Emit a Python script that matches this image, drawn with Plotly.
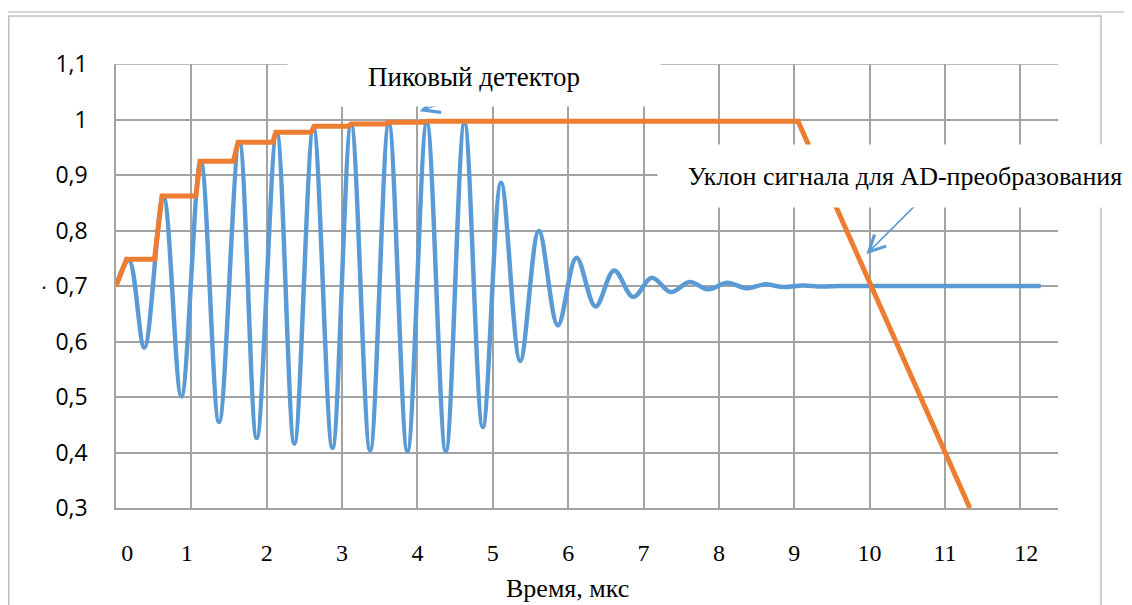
import plotly.graph_objects as go

# ---- data ----
# signal (blue): time in microseconds, amplitude
signal_t = [0.0, 0.17, 0.376, 0.628, 0.867, 1.124, 1.367, 1.637, 1.867, 2.133, 2.367,
            2.62, 2.872, 3.12, 3.372, 3.62, 3.867, 4.124, 4.376, 4.624, 4.867, 5.11,
            5.363, 5.611, 5.863, 6.11, 6.363, 6.61, 6.863, 7.11, 7.363, 7.61, 7.863,
            8.11, 8.36, 8.61, 8.86, 9.11, 9.36, 9.61, 10.0, 12.27]
signal_v = [0.70, 0.747, 0.589, 0.862, 0.501, 0.925, 0.455, 0.958, 0.426, 0.976, 0.416,
            0.985, 0.408, 0.991, 0.404, 0.993, 0.402, 0.994, 0.402, 0.994, 0.446, 0.886,
            0.565, 0.799, 0.629, 0.751, 0.663, 0.728, 0.680, 0.715, 0.689, 0.707, 0.694,
            0.706, 0.696, 0.703, 0.698, 0.701, 0.699, 0.700, 0.700, 0.700]

# peak detector (orange)
peak_t = [0.0, 0.14, 0.51, 0.61, 1.06, 1.115, 1.557, 1.62, 2.08, 2.12, 2.59, 2.63,
          3.08, 3.12, 3.58, 3.62, 4.08, 4.12, 9.05, 11.33]
peak_v = [0.70, 0.748, 0.748, 0.862, 0.862, 0.925, 0.925, 0.959, 0.959, 0.977, 0.977,
          0.988, 0.988, 0.992, 0.992, 0.995, 0.995, 0.997, 0.997, 0.30]

x_grid_vals = list(range(0, 13))
x_tick_labels = [str(v) for v in x_grid_vals]
y_tick_vals = [0.3, 0.4, 0.5, 0.6, 0.7, 0.8, 0.9, 1.0, 1.1]
y_tick_labels = ["0,3", "0,4", "0,5", "0,6", "0,7", "0,8", "0,9", "1", "1,1"]

label_peak = "Пиковый детектор"
label_slope = "Уклон сигнала для AD-преобразования"
x_title = "Время, мкс"

BLUE = "#5B9BD5"
ORANGE = "#ED7D31"
GRID = "#A3A3A3"

OFF = 8                      # page body margin
PAGE_W, PAGE_H = 1132, 605
W, H = PAGE_W - OFF, PAGE_H - OFF
L, R, T, B = 116, 1058, 64, 508  # plot area in page pixels
X_MAX = 12.5
Y_MIN, Y_MAX = 0.3, 1.1

# hand-placed label nudges (in axis units) as in the reference
label_nudge = {0: 0.15, 1: -0.06, 12: 0.08}
x_label_pos = [v + label_nudge.get(v, 0.0) for v in x_grid_vals]


def px(x):
    return (x - L) / (R - L)


def py(y):
    return (B - y) / (B - T)


fig = go.Figure()
fig.add_trace(go.Scatter(x=signal_t, y=signal_v, mode="lines",
                         line=dict(color=BLUE, width=4.5, shape="spline", smoothing=1.0),
                         showlegend=False, hoverinfo="skip"))
fig.add_trace(go.Scatter(x=peak_t, y=peak_v, mode="lines",
                         line=dict(color=ORANGE, width=5),
                         showlegend=False, hoverinfo="skip"))

serif = "Liberation Serif, Times New Roman, serif"
sans = "Open Sans, Arial, sans-serif"

fig.update_layout(
    width=W, height=H,
    margin=dict(l=L - OFF, r=W - (R - OFF), t=T - OFF, b=H - (B - OFF), pad=0),
    paper_bgcolor="white", plot_bgcolor="white",
    xaxis=dict(range=[0, X_MAX], tickvals=x_label_pos, ticktext=x_tick_labels,
               showgrid=False, zeroline=False,
               minor=dict(tickvals=x_grid_vals, showgrid=True, gridcolor=GRID,
                          gridwidth=1.5, ticks=""),
               showline=True, linecolor=GRID, linewidth=1.5, ticks="",
               ticklabelstandoff=22,
               tickfont=dict(family=serif, size=24, color="black")),
    yaxis=dict(range=[Y_MIN, Y_MAX], tickvals=y_tick_vals, ticktext=y_tick_labels,
               showgrid=True, gridcolor=GRID, gridwidth=1.5, zeroline=False,
               showline=True, linecolor=GRID, linewidth=1.5, ticks="",
               ticklabelstandoff=22,
               tickfont=dict(family=sans, size=23, color="black")),
)

# top gridline at 1.1 (explicit)
fig.add_shape(type="line", xref="x", yref="y", x0=0, x1=X_MAX, y0=Y_MAX, y1=Y_MAX,
              line=dict(color=GRID, width=1.5), layer="below")

# outer chart border and top line
fig.add_shape(type="rect", xref="paper", yref="paper",
              x0=px(OFF + 0.75), x1=px(1101), y0=py(640), y1=py(16),
              line=dict(color="#BFBFBF", width=1.5), fillcolor="rgba(0,0,0,0)", layer="above")
fig.add_shape(type="line", xref="paper", yref="paper",
              x0=px(OFF), x1=px(PAGE_W), y0=py(12), y1=py(12),
              line=dict(color="#C8C8C8", width=1.5), layer="above")

# arrows (drawn first, boxes will cover their tails)
fig.add_annotation(x=4.03, y=1.015, xref="x", yref="y", text="", showarrow=True,
                   ax=40, ay=-14, arrowhead=5, arrowsize=2.0, arrowwidth=1.6,
                   arrowcolor=BLUE)
fig.add_annotation(x=9.956, y=0.757, xref="x", yref="y", text="", showarrow=True,
                   ax=75, ay=-75, arrowhead=5, arrowsize=2.0, arrowwidth=1.6,
                   arrowcolor=BLUE)

# text boxes with white background
fig.add_annotation(x=px(474), y=py(77), xref="paper", yref="paper", text=label_peak,
                   showarrow=False, xanchor="center", yanchor="middle",
                   width=372, height=58, borderpad=0, bgcolor="white",
                   font=dict(family=serif, size=27, color="black"))
fig.add_annotation(x=px(905), y=py(176), xref="paper", yref="paper", text=label_slope,
                   showarrow=False, xanchor="center", yanchor="middle",
                   width=494, height=62, borderpad=0, bgcolor="white",
                   font=dict(family=serif, size=26, color="black"))

# axis title
fig.add_annotation(x=px(567), y=py(588), xref="paper", yref="paper", text=x_title,
                   showarrow=False, xanchor="center", yanchor="middle",
                   font=dict(family=serif, size=26, color="black"))

# stray dot left of 0,7
fig.add_annotation(x=px(44), y=py(287), xref="paper", yref="paper", text="•",
                   showarrow=False, xanchor="center", yanchor="middle",
                   font=dict(family=sans, size=11, color="black"))

fig.write_html("out.html")
